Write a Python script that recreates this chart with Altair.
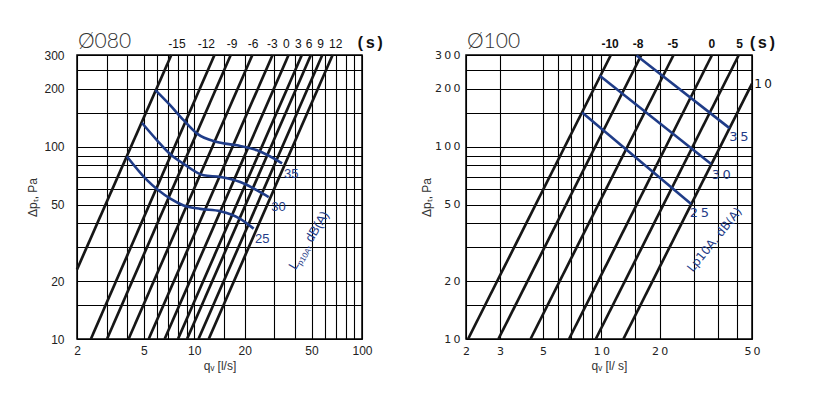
import altair as alt
import pandas as pd

TS = "\u2009"  # thin space used for the letter-spaced labels of the Ø100 chart

# ---------------- Ø080 panel ----------------
L_TITLE = "Ø080"
L_XDOMAIN = [2, 100]
L_XGRID = [2, 3, 4, 5, 6, 7, 8, 9, 10, 15, 20, 30, 40, 50, 60, 70, 80, 90, 100]
L_XLABELS = {2: "2", 5: "5", 10: "10", 20: "20", 50: "50", 100: "100"}
# damper-setting lines (s): start (q,p) and end (q,p)
L_S = ["-15", "-12", "-9", "-6", "-3", "0", "3", "6", "9", "12"]
L_Q0 = [2.0, 2.42, 3.02, 4.06, 5.35, 6.66, 8.0, 9.06, 10.6, 12.2]
L_P0 = [23, 10, 10, 10, 10, 10, 10, 10, 10, 10]
L_Q1 = [7.3, 13.2, 16.5, 22.2, 29.3, 36.5, 43.8, 49.6, 58.0, 66.8]
L_P1 = [300, 300, 300, 300, 300, 300, 300, 300, 300, 300]
L_SLAB_Q = [7.89, 11.8, 16.8, 22.4, 29.2, 35.4, 41.8, 48.3, 56.7, 69.7]
L_S_UNIT_Q = 112
# sound level curves Lp10A
L_C35_Q = [5.86, 7.2, 8.64, 10.39, 13.67, 18.0, 23.7, 33.4]
L_C35_P = [196.9, 164, 137.4, 117.0, 105.8, 101.7, 95.8, 82.0]
L_C30_Q = [4.88, 6.0, 7.2, 8.64, 11.37, 14.3, 18.8, 23.7, 27.8]
L_C30_P = [133, 108, 91.4, 81.5, 71.0, 69.6, 65.5, 59.3, 54.7]
L_C25_Q = [3.97, 5.25, 7.2, 8.64, 10.87, 14.3, 18.8, 22.6]
L_C25_P = [89, 66.8, 53.7, 49.5, 47.5, 46.2, 42.2, 37.5]
L_CLAB = ["35", "30", "25"]
L_CLAB_Q = [37.9, 31.8, 25.4]
L_CLAB_P = [72, 48.8, 33.2]
L_ROT_Q, L_ROT_P = 40.1, 22.7
L_ROT_PARTS = ["L", "p10A", " , dB(A)"]

# ---------------- Ø100 panel ----------------
R_TITLE = "Ø100"
R_XDOMAIN = [2, 60]
R_XGRID = [2, 3, 5, 6, 7, 8, 9, 10, 15, 20, 30, 40, 50, 60]
R_XLABELS = {2: "2", 3: "3", 5: "5", 10: "1" + TS + "0", 20: "2" + TS + "0", 60: "5" + TS + "0"}
R_S = ["-10", "-8", "-5", "0", "5", "10"]
R_Q0 = [2.05, 2.94, 4.31, 6.81, 9.36, 13.0]
R_P0 = [10, 10, 10, 10, 10, 10]
R_Q1 = [11.2, 16.1, 23.6, 37.3, 51.3, 60]
R_P1 = [300, 300, 300, 300, 300, 213]
R_SLAB = ["-10", "-8", "-5", "0", "5"]
R_SLAB_Q = [11.1, 15.5, 23.4, 37.2, 51.7]
R_SIDE_LAB, R_SIDE_Q, R_SIDE_P = "1" + TS + "0", 68.5, 213
R_S_UNIT_Q = 67.9
R_C35_Q = [15.2, 45.9]
R_C35_P = [298, 125]
R_C30_Q = [9.82, 36.9]
R_C30_P = [234, 81.3]
R_C25_Q = [7.96, 29.1]
R_C25_P = [150.5, 50.3]
R_CLAB = ["3" + TS + "5", "3" + TS + "0", "2" + TS + "5"]
R_CLAB_Q = [51.3, 41.6, 32.1]
R_CLAB_P = [113, 71, 45]
R_ROT_Q, R_ROT_P = 29.7, 22.1
R_ROT_TEXT = "Lp10A, dB(A)"

# ---------------- shared y axis ----------------
Y_DOMAIN = [10, 300]
Y_GRID = [10, 15, 20, 30, 40, 50, 60, 70, 80, 90, 100, 150, 200, 250, 300]
L_YLABELS = {10: "10", 20: "20", 50: "50", 100: "100", 200: "200", 300: "300"}
R_YLABELS = {10: "1" + TS + "0", 20: "2" + TS + "0", 50: "5" + TS + "0",
             100: "1" + TS + "0" + TS + "0", 200: "2" + TS + "0" + TS + "0", 300: "3" + TS + "0" + TS + "0"}

BLUE = "#1f3c88"
BLACK = "#161616"


def expr(mapping):
    e = "''"
    for v, t in mapping.items():
        e = f"datum.value == {v} ? '{t}' : ({e})"
    return e


def lines_df(s, q0, p0, q1, p1):
    rows = []
    for i, name in enumerate(s):
        rows.append({"s": name, "q": q0[i], "p": p0[i]})
        rows.append({"s": name, "q": q1[i], "p": p1[i]})
    return pd.DataFrame(rows)


def curves_df(curves):
    rows = []
    for name, qs, ps in curves:
        for q, p in zip(qs, ps):
            rows.append({"c": name, "q": q, "p": p})
    return pd.DataFrame(rows)


def panel(title, xdomain, xgrid, xlabels, ylabels, xtitle, ytitle, lines, slab, unit_q,
          curves, clab, interp, font, lfs, top_font, top_weight, lpad, tpad, w, h):
    xs = alt.Scale(type="log", domain=xdomain, nice=False)
    ys = alt.Scale(type="log", domain=Y_DOMAIN, nice=False)
    xax = alt.Axis(values=xgrid, labelExpr=expr(xlabels), title=xtitle, labelFlush=False,
                   labelOverlap=False, labelPadding=6, titlePadding=4, labelFont=font,
                   labelFontSize=lfs)
    yax = alt.Axis(values=Y_GRID, labelExpr=expr(ylabels), title=ytitle, labelOverlap=False,
                   labelPadding=lpad, titlePadding=tpad, labelFont=font, labelFontSize=lfs)
    X = alt.X("q:Q", scale=xs, axis=xax)
    Y = alt.Y("p:Q", scale=ys, axis=yax)
    Xn = alt.X("q:Q", scale=xs)
    Yn = alt.Y("p:Q", scale=ys)

    black = alt.Chart(lines).mark_line(color=BLACK, strokeWidth=2.7).encode(
        x=X, y=Y, detail="s:N")
    blue = alt.Chart(curves).mark_line(color=BLUE, strokeWidth=2.6, interpolate=interp).encode(
        x=Xn, y=Yn, detail="c:N")
    top = alt.Chart(slab).mark_text(dy=-11, fontSize=12, font=top_font, color="#111",
                                    fontWeight=top_weight).encode(
        x=Xn, y=Yn, text="t:N")
    unit = alt.Chart(pd.DataFrame({"q": [unit_q], "p": [300], "t": ["(s)"]})).mark_text(
        dy=-12, fontSize=16, font="Liberation Mono", fontWeight="bold", color="#111").encode(
        x=Xn, y=Yn, text="t:N")
    ttl = alt.Chart(pd.DataFrame({"q": [xdomain[0]], "p": [300], "t": [title]})).mark_text(
        align="left", baseline="alphabetic", dx=1, dy=-7, fontSize=21, font="Lato",
        fontWeight=300, color="#333").encode(x=Xn, y=Yn, text="t:N")
    cl = alt.Chart(clab).mark_text(fontSize=13, font=font, color=BLUE).encode(
        x=Xn, y=Yn, text="t:N")
    return alt.layer(black, blue, top, unit, ttl, cl).properties(width=w, height=h)


# ---- left panel
l_lines = lines_df(L_S, L_Q0, L_P0, L_Q1, L_P1)
l_slab = pd.DataFrame({"q": L_SLAB_Q, "p": [300] * len(L_SLAB_Q), "t": L_S})
l_curves = curves_df([("35", L_C35_Q, L_C35_P), ("30", L_C30_Q, L_C30_P), ("25", L_C25_Q, L_C25_P)])
l_clab = pd.DataFrame({"q": L_CLAB_Q, "p": L_CLAB_P, "t": L_CLAB})
left = panel(L_TITLE, L_XDOMAIN, L_XGRID, L_XLABELS, L_YLABELS, "qᵥ [l/s]", "Δpₜ, Pa",
             l_lines, l_slab, L_S_UNIT_Q, l_curves, l_clab, "monotone", "Liberation Sans", 12,
             "Liberation Sans", "normal", 13, 4, 285, 284)
rot_df = pd.DataFrame({"q": [L_ROT_Q], "p": [L_ROT_P]})
rxs = alt.Scale(type="log", domain=L_XDOMAIN, nice=False)
rys = alt.Scale(type="log", domain=Y_DOMAIN, nice=False)
rot_layers = []
for txt, dx, dy, fs in zip(L_ROT_PARTS, [0, 7, 25], [0, 3, 0], [13, 8, 13]):
    rot_layers.append(alt.Chart(rot_df).mark_text(
        align="left", baseline="alphabetic", angle=301, dx=dx, dy=dy, fontSize=fs,
        font="Liberation Sans", color=BLUE).encode(
        x=alt.X("q:Q", scale=rxs), y=alt.Y("p:Q", scale=rys), text=alt.value(txt)))
left = alt.layer(left, *rot_layers)

# ---- right panel
r_lines = lines_df(R_S, R_Q0, R_P0, R_Q1, R_P1)
r_slab = pd.DataFrame({"q": R_SLAB_Q, "p": [300] * len(R_SLAB_Q), "t": R_SLAB})
r_curves = curves_df([("35", R_C35_Q, R_C35_P), ("30", R_C30_Q, R_C30_P), ("25", R_C25_Q, R_C25_P)])
r_clab = pd.DataFrame({"q": R_CLAB_Q, "p": R_CLAB_P, "t": R_CLAB})
right = panel(R_TITLE, R_XDOMAIN, R_XGRID, R_XLABELS, R_YLABELS, "qᵥ [l/ s]", "Δpₜ, Pa",
              r_lines, r_slab, R_S_UNIT_Q, r_curves, r_clab, "linear", "DejaVu Sans", 11,
              "Liberation Sans", "bold", 6, 1, 286, 284)
rrx = alt.Scale(type="log", domain=R_XDOMAIN, nice=False)
side = alt.Chart(pd.DataFrame({"q": [R_SIDE_Q], "p": [R_SIDE_P], "t": [R_SIDE_LAB]})).mark_text(
    fontSize=12, font="DejaVu Sans", color="#111").encode(
    x=alt.X("q:Q", scale=rrx), y=alt.Y("p:Q", scale=rys), text="t:N")
rrot = alt.Chart(pd.DataFrame({"q": [R_ROT_Q], "p": [R_ROT_P], "t": [R_ROT_TEXT]})).mark_text(
    align="left", baseline="alphabetic", angle=309, fontSize=12, font="DejaVu Sans", color=BLUE).encode(
    x=alt.X("q:Q", scale=rrx), y=alt.Y("p:Q", scale=rys), text="t:N")
right = alt.layer(right, side, rrot)

chart = alt.hconcat(left, right, spacing=104, bounds="flush").properties(
    padding={"left": 18, "top": 22, "right": 5, "bottom": 5}
).configure_view(stroke="black", strokeWidth=1.5).configure_axis(
    grid=True, gridColor="black", gridOpacity=1, gridWidth=1.1, domain=False, ticks=False,
    labelColor="#222", titleFont="Liberation Sans", titleFontSize=12,
    titleFontWeight="normal", titleColor="#333"
)

chart.save("out.html", embed_options={"renderer": "svg", "actions": False})
